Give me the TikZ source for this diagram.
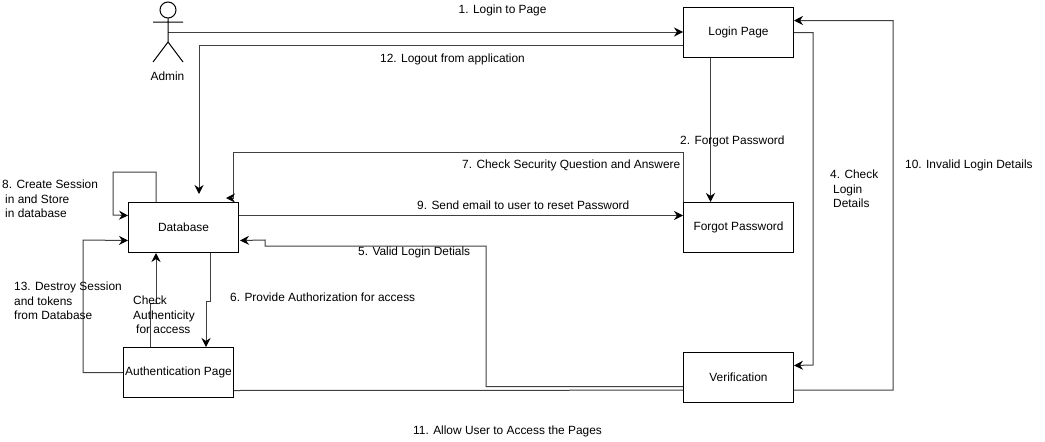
\documentclass[tikz,border=0pt]{standalone}
\usepackage{fontspec}
\setmainfont{Liberation Sans}
\usetikzlibrary{arrows.meta,backgrounds}
\tikzset{
  x=1pt,y=-1pt,
  box/.style={draw=black,fill=white,line width=1pt,minimum width=110pt,minimum height=50pt,inner sep=0pt,anchor=north west,font=\fontsize{11.9}{14}\selectfont},
  conn/.style={draw=black!75,line width=1pt,-{Stealth[length=9pt,width=9pt,inset=3pt,color=black]}},
  lbl/.style={inner sep=0pt,align=left,anchor=west,font=\fontsize{11.9}{14.4}\selectfont},
  person/.style={draw=black,line width=1pt}
}
\begin{document}
\begin{tikzpicture}
\useasboundingbox (0,0) rectangle (1045,442);
% boxes
\node[box] (login) at (683,7) {Login Page};
\node[box] (forgot) at (683,202) {Forgot Password};
\node[box] (verif) at (683,352) {Verification};
\node[box] (db) at (128,202) {Database};
\node[box] (auth) at (123,347) {Authentication Page};
% actor
\coordinate (admin) at (168,32);
\draw[person] (168,10) circle (8);
\draw[person] (168,18) -- (168,42) (153,22) -- (183,22) (153,62) -- (168,42) -- (183,62);
\node[lbl,anchor=center] (adminlbl) at (167.5,76) {Admin};
% connectors
\begin{scope}[on background layer]
\fill[white] (0,0) rectangle (1045,442);
\draw[conn] (admin) -- (admin -| login.west);
\draw[conn] ([yshift=-13pt]login.west) -| ([xshift=71pt,yshift=8pt]db.north west);
\draw[conn] ([xshift=-28pt]login.south) -- ([xshift=-28pt]forgot.north);
\draw[conn] (forgot.north west) -- ++(0,-50) -| ([xshift=105pt,yshift=4pt]db.north west) -- ([xshift=98pt,yshift=4pt]db.north west);
\draw[conn] ([yshift=12pt]db.east) -- ([yshift=12pt]db.east -| forgot.west);
\draw[conn] ([xshift=28pt]db.north west) -- ++(0,-30) -| (113,215) -- ([yshift=12pt]db.west);
\draw[conn] ([xshift=27pt]auth.north west) |- (156,303) -- ([xshift=28pt]db.south west);
\draw[conn] ([xshift=82pt]db.south west) -- ++(0,48) -| ([xshift=83pt]auth.north west);
\draw[conn] (auth.west) -| (83,240) -- ([yshift=-13pt]db.west);
\draw[conn] ([yshift=-9pt]verif.west) -| (486,246) -| (265,240) -- ([xshift=1pt,yshift=-13pt]db.east);
\draw[conn] ([yshift=-18pt]auth.east) -- (893,390) |- ([yshift=12pt]login.east);
\draw[conn] (login.east) -| (813,365) -- ([yshift=12pt]verif.east);
\end{scope}
% labels
\node[lbl] (l1) at (458.5,10) {1. Login to Page};
\node[lbl] (l12) at (380,59) {12. Logout from application};
\node[lbl] (l2) at (680,141) {2. Forgot Password};
\node[lbl] (l7) at (462,165) {7. Check Security Question and Answere};
\node[lbl] (l9) at (417,205) {9. Send email to user to reset Password};
\node[lbl] (l5) at (358,252) {5. Valid Login Detials};
\node[lbl] (l6) at (230,297) {6. Provide Authorization for access};
\node[lbl] (l4) at (830,189) {4. Check\\\hspace*{3pt}Login\\\hspace*{3pt}Details};
\node[lbl] (l10) at (905,165) {10. Invalid Login Details};
\node[lbl] (l8) at (2,199) {8. Create Session\\\hspace*{3pt}in and Store\\\hspace*{3pt}in database};
\node[lbl] (l13) at (14,301) {13. Destroy Session\\and tokens\\from Database};
\node[lbl] (lc) at (133,315) {Check\\Authenticity\\\hspace*{3pt}for access};
\node[lbl] (l11) at (413,431) {11. Allow User to Access the Pages};
\end{tikzpicture}
\end{document}
